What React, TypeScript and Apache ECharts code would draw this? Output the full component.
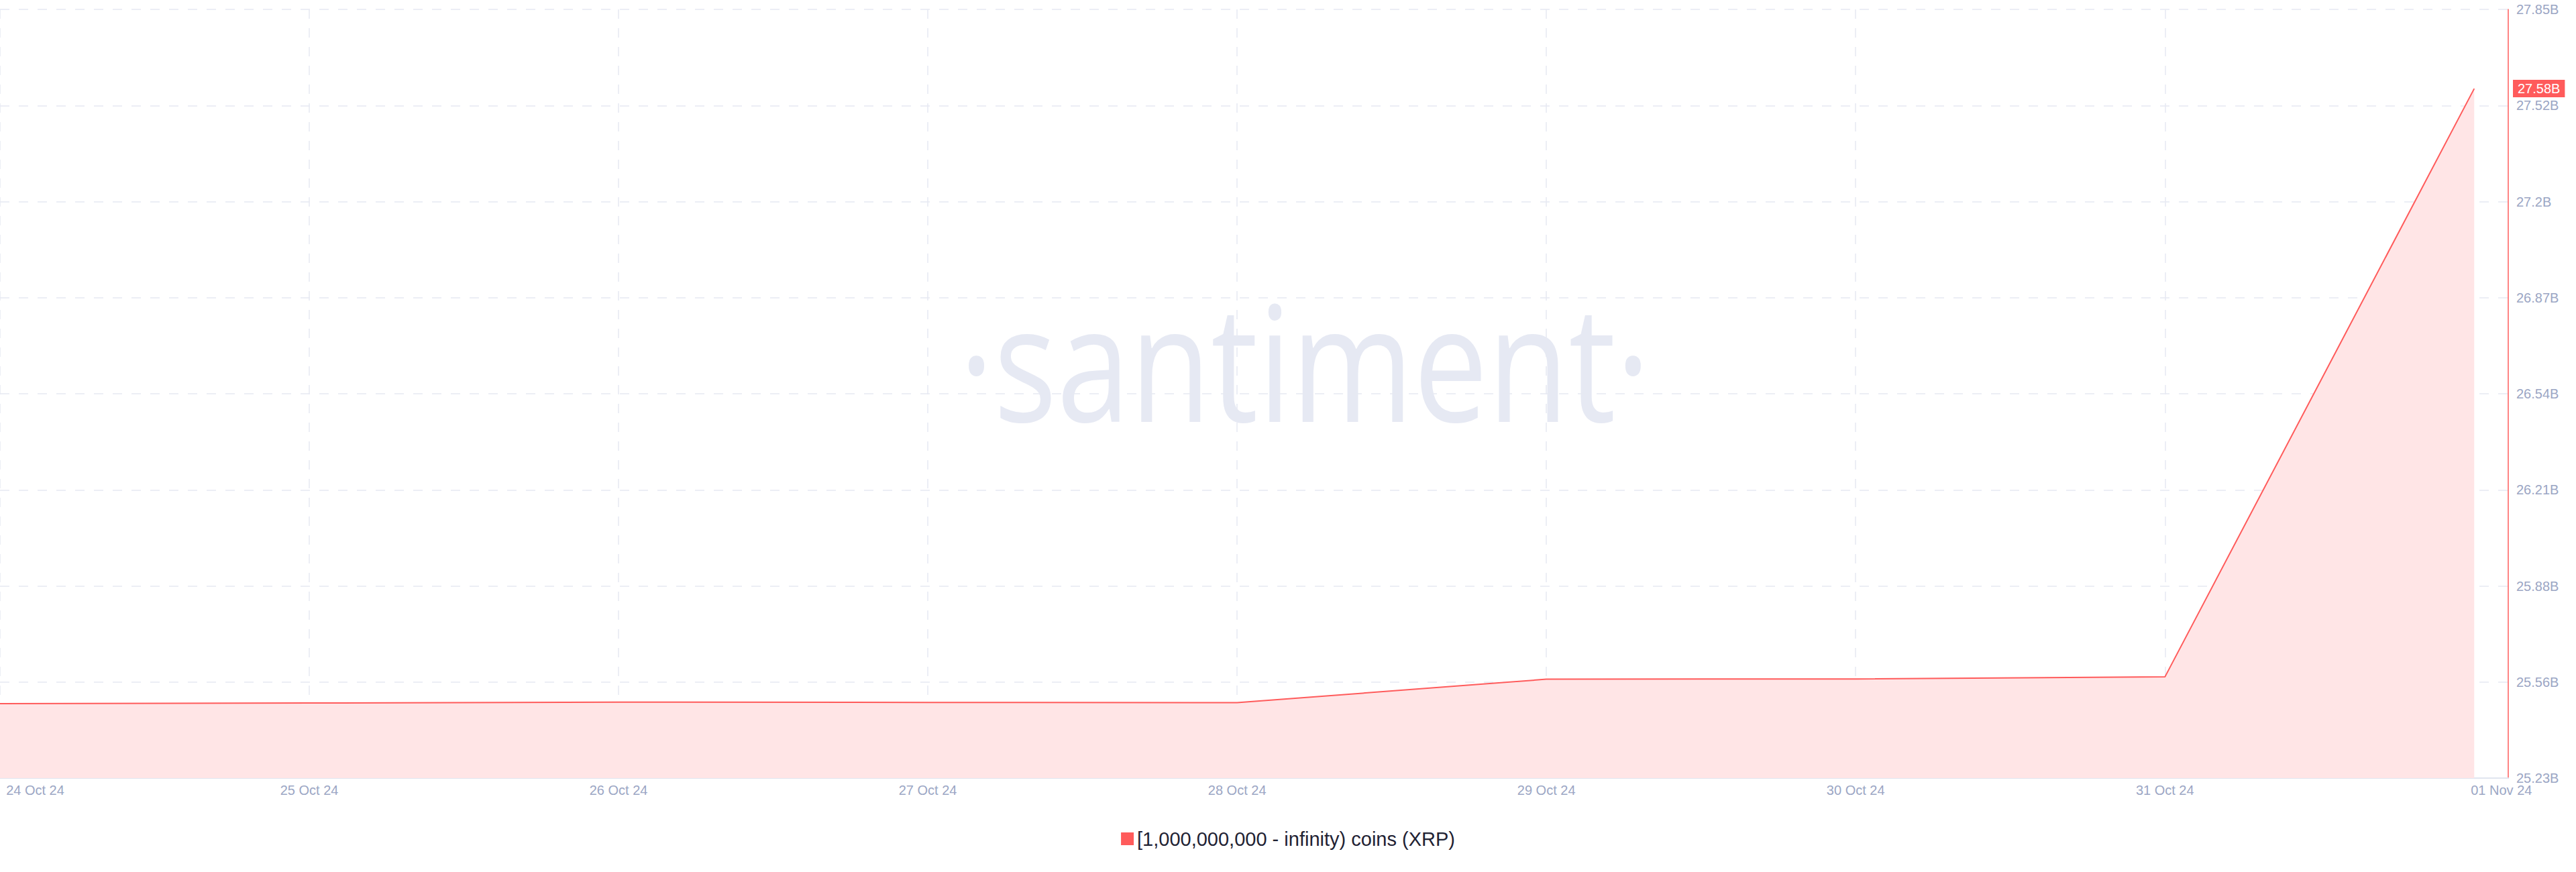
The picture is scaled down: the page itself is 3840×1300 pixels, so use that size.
import React, { useEffect, useRef } from "react";
import * as echarts from "echarts";

const dates = ["24 Oct 24", "25 Oct 24", "26 Oct 24", "27 Oct 24", "28 Oct 24", "29 Oct 24", "30 Oct 24", "31 Oct 24", "01 Nov 24"];
// supply held by [1,000,000,000 - infinity) XRP wallets, in billions
const values = [25.484, 25.486, 25.489, 25.488, 25.487, 25.567, 25.568, 25.575, 27.58];
const yTickLabels = ["25.23B", "25.56B", "25.88B", "26.21B", "26.54B", "26.87B", "27.2B", "27.52B", "27.85B"];
const yMin = 25.23;
const yMax = 27.85;
const yStep = 0.3275;
const xMax = 8.11;
const seriesName = "[1,000,000,000 - infinity) coins (XRP)";
const lastLabel = "27.58B";

const RED = "#ff5b5b";
const AXIS_TEXT = "#9ba6c4";
const GRID = "#e6e9f2";
const FONT = "'Liberation Sans', Arial, sans-serif";

export default function App() {
  const ref = useRef<HTMLDivElement>(null);
  useEffect(() => {
    if (!ref.current) return;
    const chart = echarts.init(ref.current, null, { renderer: "svg" });
    const lastIdx = values.length - 1;
    const labelIdx = dates.map((_, i) => i);
    const gridIdx = labelIdx.slice(0, lastIdx);
    chart.setOption({
      animation: false,
      backgroundColor: "#ffffff",
      grid: { left: 0, right: 101, top: 14, bottom: 140, containLabel: false },
      graphic: {
        elements: [
          {
            type: "text",
            z: -10,
            x: 1945,
            y: 536,
            scaleX: 0.82,
            style: {
              text: "·santiment·",
              font: "240px 'Open Sans', sans-serif",
              fill: "#e6e9f3",
              align: "center",
              verticalAlign: "middle",
            },
          },
        ],
      },
      legend: {
        bottom: 30,
        left: "center",
        icon: "rect",
        itemWidth: 19,
        itemHeight: 19,
        itemGap: 10,
        textStyle: { fontSize: 29, color: "#1f2233", fontFamily: FONT },
        data: [seriesName],
      },
      xAxis: {
        type: "value",
        min: 0,
        max: xMax,
        interval: 1,
        axisLine: { show: true, onZero: false, lineStyle: { color: "#e0e5ef", width: 2 } },
        axisTick: { show: false, customValues: gridIdx },
        splitLine: { show: true, lineStyle: { type: [14, 14], color: GRID, width: 1.5 } },
        axisLabel: {
          customValues: labelIdx,
          color: AXIS_TEXT,
          fontSize: 20,
          fontFamily: FONT,
          margin: 8,
          formatter: (v: number) => {
            const i = Math.round(v);
            if (Math.abs(v - i) > 1e-6 || i < 0 || i > lastIdx) return "";
            if (i === 0) return `{first|${dates[i]}}`;
            if (i === lastIdx) return `{last|${dates[i]}}`;
            return dates[i];
          },
          rich: {
            first: { padding: [0, 0, 0, 105], fontSize: 20, color: AXIS_TEXT, fontFamily: FONT },
            last: { padding: [0, 0, 0, 81], fontSize: 20, color: AXIS_TEXT, fontFamily: FONT },
          },
        },
      },
      yAxis: {
        type: "value",
        position: "right",
        min: yMin,
        max: yMax,
        interval: yStep,
        axisLine: { show: true, onZero: false, lineStyle: { color: RED, width: 1.5 } },
        axisTick: { show: false },
        splitLine: { show: true, lineStyle: { type: [14, 14], color: GRID, width: 1.5 } },
        axisLabel: {
          color: AXIS_TEXT,
          fontSize: 20,
          fontFamily: FONT,
          margin: 12,
          formatter: (v: number, idx: number) => yTickLabels[idx] ?? "",
        },
      },
      series: [
        {
          name: seriesName,
          type: "line",
          data: values.map((v, i) => [i, v]),
          symbol: "none",
          lineStyle: { color: RED, width: 2 },
          itemStyle: { color: RED },
          areaStyle: { color: "#ffe5e6", opacity: 1, origin: "start" },
          markLine: {
            silent: true,
            symbol: "none",
            lineStyle: { color: "rgba(0,0,0,0)", width: 0 },
            label: {
              show: true,
              position: "end",
              distance: 7,
              formatter: lastLabel,
              color: "#ffffff",
              backgroundColor: RED,
              fontSize: 20,
              fontFamily: FONT,
              padding: [3, 7, 3, 7],
            },
            data: [{ yAxis: values[lastIdx] }],
          },
        },
      ],
    });
    return () => chart.dispose();
  }, []);
  return (
    <div
      ref={ref}
      style={{ position: "fixed", left: 0, top: 0, width: 3840, height: 1300, background: "#fff" }}
    />
  );
}
